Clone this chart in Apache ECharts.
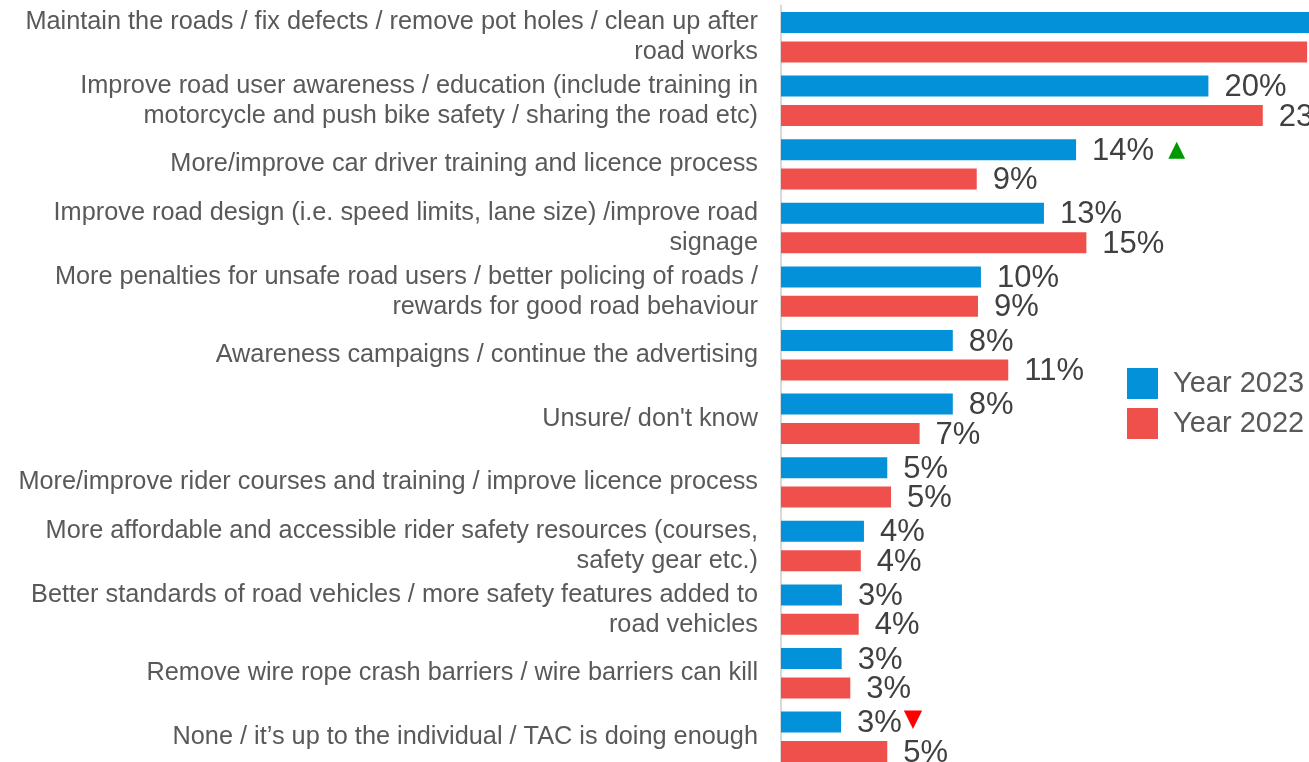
<!DOCTYPE html>
<html>
<head>
<meta charset="utf-8">
<script src="https://cdn.jsdelivr.net/npm/echarts@6/dist/echarts.min.js"></script>
<style>
  html, body { margin: 0; padding: 0; background: #ffffff; }
  #chart { width: 1309px; height: 762px; }
</style>
</head>
<body>
<div id="chart"></div>
<script>
// Suggestions for improving road safety, share of respondents (%)
const categories = [
  'Maintain the roads / fix defects / remove pot holes / clean up after road works',
  'Improve road user awareness / education (include training in motorcycle and push bike safety / sharing the road etc)',
  'More/improve car driver training and licence process',
  'Improve road design (i.e. speed limits, lane size) /improve road signage',
  'More penalties for unsafe road users / better policing of roads / rewards for good road behaviour',
  'Awareness campaigns / continue the advertising',
  "Unsure/ don't know",
  'More/improve rider courses and training / improve licence process',
  'More affordable and accessible rider safety resources (courses, safety gear etc.)',
  'Better standards of road vehicles / more safety features added to road vehicles',
  'Remove wire rope crash barriers / wire barriers can kill',
  'None / it\u2019s up to the individual / TAC is doing enough'
];
const year2023 = [27.0, 20.35, 14.05, 12.52, 9.52, 8.18, 8.18, 5.06, 3.95, 2.90, 2.89, 2.86];
const year2022 = [25.05, 22.94, 9.32, 14.54, 9.38, 10.82, 6.60, 5.24, 3.80, 3.70, 3.30, 5.06];
// Significant change of 2023 versus 2022
const change2023 = ['', '', 'up', '', '', '', '', '', '', '', '', 'down'];

const FONT = '"Liberation Sans", Arial, Helvetica, sans-serif';
const BLUE = '#0392d9';
const RED = '#f0504b';
const CAT_FONT_SIZE = 25.3;
const CAT_MAX_WIDTH = 750;

// Word-wrap a category name so each line fits the label column (no trailing spaces)
const measureCtx = document.createElement('canvas').getContext('2d');
measureCtx.font = CAT_FONT_SIZE + 'px ' + FONT;
function wrapLabel(text) {
  const words = text.split(' ');
  const lines = [];
  let line = '';
  for (const w of words) {
    const trial = line ? line + ' ' + w : w;
    if (line && measureCtx.measureText(trial).width > CAT_MAX_WIDTH) {
      lines.push(line);
      line = w;
    } else {
      line = trial;
    }
  }
  if (line) lines.push(line);
  return lines.join('\n');
}

const valueRich = {
  v: { fontSize: 31, color: '#404040', fontFamily: FONT },
  up: { fontSize: 22, color: '#009a00', fontFamily: '"DejaVu Sans", sans-serif', padding: [0, 0, 2, 14] },
  dn: { fontSize: 24, color: '#ff0000', fontFamily: '"DejaVu Sans", sans-serif', padding: [0, 0, 8, 2] }
};

function pct(v) { return Math.round(v) + '%'; }

const chart = echarts.init(document.getElementById('chart'), null, { renderer: 'canvas' });
chart.setOption({
  animation: false,
  backgroundColor: '#ffffff',
  grid: { left: 781, top: 5.4, right: 0, height: 763.2, containLabel: false, outerBoundsMode: 'none' },
  legend: {
    orient: 'vertical',
    left: 1127,
    top: 368,
    padding: 0,
    itemWidth: 31,
    itemHeight: 31,
    itemGap: 9,
    icon: 'rect',
    textStyle: { fontSize: 29, color: '#595959', fontFamily: FONT, padding: [0, 0, 0, 10] },
    data: ['Year 2023', 'Year 2022']
  },
  xAxis: {
    type: 'value',
    min: 0,
    max: 25.14,
    show: false,
    splitLine: { show: false }
  },
  yAxis: {
    type: 'category',
    inverse: true,
    data: categories,
    axisLine: { show: true, lineStyle: { color: '#d9d9d9', width: 2 } },
    axisTick: { show: false },
    axisLabel: {
      fontSize: CAT_FONT_SIZE,
      color: '#595959',
      fontFamily: FONT,
      margin: 23,
      lineHeight: 30,
      align: 'right',
      formatter: wrapLabel
    }
  },
  series: [
    {
      name: 'Year 2023',
      type: 'bar',
      data: year2023,
      barWidth: 21,
      barGap: '40%',
      itemStyle: { color: BLUE },
      label: {
        show: true,
        position: 'right',
        distance: 16,
        offset: [0, 1.5],
        formatter: function (p) {
          const flag = change2023[p.dataIndex];
          let s = '{v|' + pct(p.value) + '}';
          if (flag === 'up') s += '{up|\u25B2}';
          if (flag === 'down') s += '{dn|\u25BC}';
          return s;
        },
        rich: valueRich
      }
    },
    {
      name: 'Year 2022',
      type: 'bar',
      data: year2022,
      barWidth: 21,
      itemStyle: { color: RED },
      label: {
        show: true,
        position: 'right',
        distance: 16,
        offset: [0, 1.5],
        formatter: function (p) { return '{v|' + pct(p.value) + '}'; },
        rich: valueRich
      }
    }
  ]
});
</script>
</body>
</html>
